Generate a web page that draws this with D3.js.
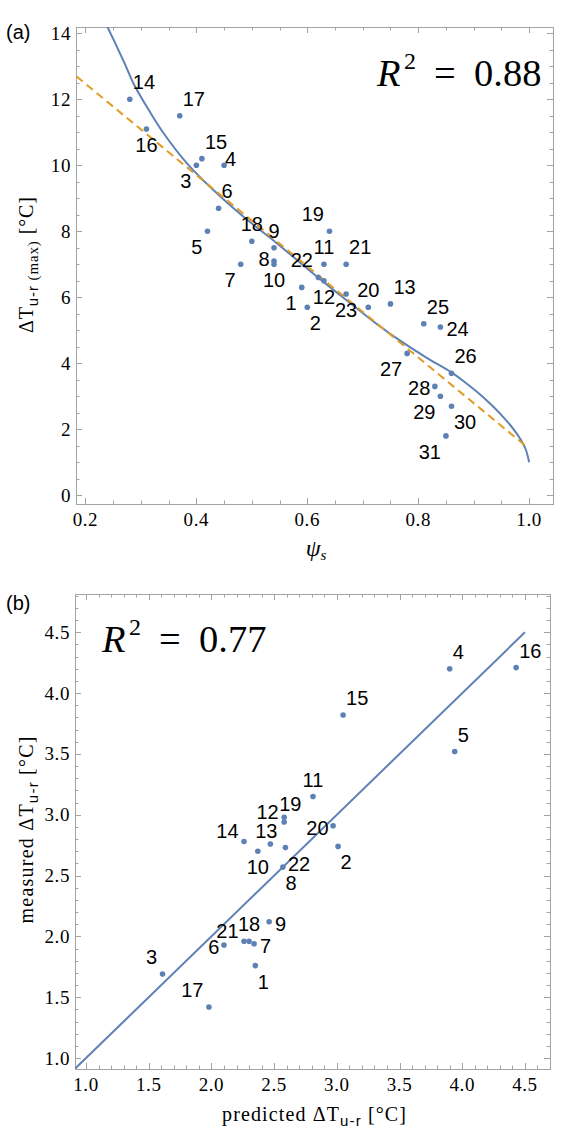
<!DOCTYPE html>
<html>
<head>
<meta charset="utf-8">
<script src="https://cdn.jsdelivr.net/npm/d3@7"></script>
<style>
  body { margin: 0; background: #fff; }
  svg { display: block; background: #fff; }
</style>
</head>
<body>
<svg id="chart" width="572" height="1137"></svg>
<script>
/**
 * Panel (a): maximum urban-rural difference against psi_s, one point per site.
 */
const siteA = [1, 2, 3, 4, 5, 6, 7, 8, 9, 10, 11, 12, 13, 14, 15, 16,
    17, 18, 19, 20, 21, 22, 23, 24, 25, 26, 27, 28, 29, 30, 31];
const psiA = [0.59, 0.60, 0.40, 0.45, 0.42, 0.44, 0.48, 0.54, 0.54, 0.54, 0.63, 0.63, 0.75, 0.28, 0.41, 0.31,
    0.37, 0.50, 0.64, 0.71, 0.67, 0.62, 0.67, 0.84, 0.81, 0.86, 0.78, 0.83, 0.84, 0.86, 0.85];
const dTmaxA = [6.3, 5.7, 10.0, 10.0, 8.0, 8.7, 7.0, 7.1, 7.5, 7.0, 7.0, 6.5, 5.8, 12.0, 10.2, 11.1,
    11.5, 7.7, 8.0, 5.7, 7.0, 6.6, 6.1, 5.1, 5.2, 3.7, 4.3, 3.3, 3.0, 2.7, 1.8];

// solid fit curve
const curvePsiA = [0.232, 0.238, 0.269, 0.289, 0.314, 0.341, 0.383, 0.437, 0.485, 0.545, 0.599,
    0.646, 0.694, 0.730, 0.766, 0.814, 0.862, 0.886, 0.911, 0.935, 0.955, 0.972, 0.985, 0.994, 1.0];
const curveDTA = [14.45, 14.25, 13.15, 12.40, 11.68, 10.97, 10.06, 9.15, 8.44, 7.64, 6.88,
    6.24, 5.60, 5.13, 4.70, 4.18, 3.70, 3.40, 3.06, 2.69, 2.34, 2.00, 1.68, 1.38, 1.0];

// dashed linear fit, end points
const linePsiA = [0.184, 0.995];
const lineDTA = [12.69, 1.48];

/**
 * Panel (b): measured against predicted difference.
 */
const siteB = [1, 2, 3, 4, 5, 6, 7, 8, 9, 10, 11, 12, 13, 14, 15, 16, 17, 18, 19, 20, 21, 22];
const predictedB = [2.35, 3.01, 1.61, 3.90, 3.94, 2.10, 2.34, 2.57, 2.46, 2.37, 2.81,
    2.58, 2.47, 2.26, 3.05, 4.43, 1.98, 2.30, 2.58, 2.97, 2.26, 2.59];
const measuredB = [1.76, 2.74, 1.69, 4.20, 3.52, 1.93, 1.94, 2.57, 2.12, 2.70, 3.15,
    2.94, 2.76, 2.78, 3.82, 4.21, 1.42, 1.96, 2.98, 2.91, 1.96, 2.73];
const diagonalB = [0.91, 4.5];

/**
 * Tick labels.
 */
const xTicksA = [0.2, 0.4, 0.6, 0.8, 1.0];
const yTicksA = [0, 2, 4, 6, 8, 10, 12, 14];
const xTicksB = [1.0, 1.5, 2.0, 2.5, 3.0, 3.5, 4.0, 4.5];
const yTicksB = [1.0, 1.5, 2.0, 2.5, 3.0, 3.5, 4.0, 4.5];

/**
 * Where each site number sits around its point (compass code).
 */
const spotA = ['sw', 'se', 'sw', 'en', 'sw', 'ne', 'sw', 'wn', 'n', 's', 'n', 's', 'ne', 'ne', 'ne', 's',
    'ne', 'n', 'nw', 'n', 'ne', 'nw', 's', 'e', 'ne', 'ne', 'sw', 'w', 'sw', 'se', 'sw'];
const spotB = ['se', 'se', 'nw', 'ne', 'ne', 'w', 'e', 'se', 'e', 's', 'n', 'wnw', 'nlow', 'wnw', 'ne', 'ne',
    'nw', 'n', 'nr', 'w', 'wnw', 'se'];

/**
 * Visual configs.
 */
const blue = '#5e81b5', orange = '#e19c24', frameColor = '#a3a3a3';
const serif = '"Liberation Serif", "Times New Roman", serif',
    sans = '"Liberation Sans", Arial, Helvetica, sans-serif';
const majorLen = 6, minorLen = 3.5;
const spotOffset = {
    n:    { anchor: 'middle', dx: 0, dy: -10 },
    nlow: { anchor: 'middle', dx: -4, dy: -6 },
    nr:   { anchor: 'start', dx: -5, dy: -6 },
    ne:   { anchor: 'start', dx: 3, dy: -10 },
    nw:   { anchor: 'end', dx: -5.5, dy: -10 },
    wnw:  { anchor: 'end', dx: -5.5, dy: -3.5 },
    e:    { anchor: 'start', dx: 6, dy: 9 },
    en:   { anchor: 'start', dx: 1, dy: 1 },
    w:    { anchor: 'end', dx: -4.5, dy: 9 },
    wn:   { anchor: 'end', dx: -4.5, dy: 5 },
    s:    { anchor: 'middle', dx: 0, dy: 23 },
    se:   { anchor: 'start', dx: 2.5, dy: 23 },
    sw:   { anchor: 'end', dx: -5, dy: 23 }
};

const svg = d3.select('#chart');

/**
 * Frame with inward ticks on all four sides, labels on left and bottom.
 */
function drawFrame(g, x, y, xMajor, yMajor, xMinor, yMinor, fmtX, fmtY) {
    const [x0, x1] = x.range(), [y0, y1] = y.range(); // y0 is bottom

    const ticks = [];
    xMinor.forEach(v => ticks.push({ v, len: minorLen, axis: 'x' }));
    xMajor.forEach(v => ticks.push({ v, len: majorLen, axis: 'x' }));
    yMinor.forEach(v => ticks.push({ v, len: minorLen, axis: 'y' }));
    yMajor.forEach(v => ticks.push({ v, len: majorLen, axis: 'y' }));

    const lines = [];
    ticks.forEach(t => {
        if (t.axis === 'x') {
            const px = Math.round(x(t.v)) + 0.5;
            lines.push([px, y0, px, y0 - t.len], [px, y1, px, y1 + t.len]);
        } else {
            const py = Math.round(y(t.v)) + 0.5;
            lines.push([x0, py, x0 + t.len, py], [x1, py, x1 - t.len, py]);
        }
    });

    g.append('g').selectAll('line')
        .data(lines)
        .join('line')
            .attr('x1', d => d[0]).attr('y1', d => d[1])
            .attr('x2', d => d[2]).attr('y2', d => d[3])
            .attr('stroke', frameColor)
            .attr('stroke-width', 1);

    g.append('rect')
        .attr('x', x0 + 0.5).attr('y', y1 + 0.5)
        .attr('width', x1 - x0).attr('height', y0 - y1)
        .attr('fill', 'none')
        .attr('stroke', frameColor)
        .attr('stroke-width', 1);

    g.append('g').selectAll('text')
        .data(xMajor)
        .join('text')
            .attr('font-family', serif)
            .attr('font-size', 19)
            .attr('letter-spacing', 0.6)
            .attr('x', d => x(d))
            .attr('y', y0 + 22)
            .attr('text-anchor', 'middle')
            .text(fmtX);

    g.append('g').selectAll('text')
        .data(yMajor)
        .join('text')
            .attr('font-family', serif)
            .attr('font-size', 19)
            .attr('letter-spacing', 0.6)
            .attr('x', x0 - 5)
            .attr('y', d => y(d) + 6.5)
            .attr('text-anchor', 'end')
            .text(fmtY);
}

/**
 * Points with their site numbers.
 */
function drawPoints(g, x, y, ids, xs, ys, spots) {
    const pts = ids.map((id, i) => ({ id, x: xs[i], y: ys[i], spot: spotOffset[spots[i]] }));

    g.append('g').selectAll('circle')
        .data(pts)
        .join('circle')
            .attr('cx', d => x(d.x))
            .attr('cy', d => y(d.y))
            .attr('r', 2.8)
            .attr('fill', blue);

    g.append('g').selectAll('text')
        .data(pts)
        .join('text')
            .attr('font-family', sans)
            .attr('font-size', 20)
            .attr('x', d => x(d.x) + d.spot.dx)
            .attr('y', d => y(d.y) + d.spot.dy)
            .attr('text-anchor', d => d.spot.anchor)
            .text(d => d.id);
}

function clipFor(id, x, y) {
    svg.append('clipPath').attr('id', id)
        .append('rect')
            .attr('x', x.range()[0]).attr('y', y.range()[1])
            .attr('width', x.range()[1] - x.range()[0])
            .attr('height', y.range()[0] - y.range()[1]);
    return `url(#${id})`;
}

const lineGen = (x, y) => d3.line().x(d => x(d[0])).y(d => y(d[1]));

/**
 * Panel (a).
 */
const xA = d3.scaleLinear().domain([0.183, 1.043]).range([76, 553]);
const yA = d3.scaleLinear().domain([-0.264, 14.19]).range([504, 27]);
const gA = svg.append('g');

drawFrame(gA, xA, yA, xTicksA, yTicksA,
    d3.range(0.2, 1.0001, 0.05), d3.range(0, 14.001, 0.5),
    d3.format('.1f'), d3.format('d'));

gA.append('path')
    .datum(curvePsiA.map((v, i) => [v, curveDTA[i]]))
    .attr('clip-path', clipFor('clipA', xA, yA))
    .attr('d', lineGen(xA, yA).curve(d3.curveCatmullRom.alpha(0.5)))
    .attr('fill', 'none')
    .attr('stroke', blue)
    .attr('stroke-width', 2);

gA.append('path')
    .datum(linePsiA.map((v, i) => [v, lineDTA[i]]))
    .attr('d', lineGen(xA, yA))
    .attr('fill', 'none')
    .attr('stroke', orange)
    .attr('stroke-width', 2)
    .attr('stroke-dasharray', '8,5');

drawPoints(gA, xA, yA, siteA, psiA, dTmaxA, spotA);

/**
 * Panel (b).
 */
const xB = d3.scaleLinear().domain([0.912, 4.70]).range([75, 550]);
const yB = d3.scaleLinear().domain([0.91, 4.815]).range([1069, 594]);
const gB = svg.append('g');

drawFrame(gB, xB, yB, xTicksB, yTicksB,
    d3.range(1.0, 4.6501, 0.1), d3.range(1.0, 4.8001, 0.1),
    d3.format('.1f'), d3.format('.1f'));

gB.append('path')
    .datum(diagonalB.map(v => [v, v]))
    .attr('clip-path', clipFor('clipB', xB, yB))
    .attr('d', lineGen(xB, yB))
    .attr('fill', 'none')
    .attr('stroke', blue)
    .attr('stroke-width', 2);

drawPoints(gB, xB, yB, siteB, predictedB, measuredB, spotB);

/**
 * Texts: panel tags, R^2, axis titles.
 */
[['(a)', 39], ['(b)', 610]].forEach(([tag, ty]) => {
    svg.append('text')
        .attr('font-family', sans).attr('font-size', 20)
        .attr('x', 6).attr('y', ty)
        .text(tag);
});

function rSquared(x0, y0, value) {
    const g = svg.append('g')
        .attr('font-family', serif)
        .attr('font-size', 38.5);
    g.append('text').attr('x', x0).attr('y', y0).attr('font-style', 'italic').text('R');
    g.append('text').attr('x', x0 + 27).attr('y', y0 - 17).attr('font-size', 24).text('2');
    g.append('text').attr('x', x0 + 57).attr('y', y0).text('=');
    g.append('text').attr('x', x0 + 97).attr('y', y0).text(value);
}
rSquared(377, 86, '0.88');
rSquared(102, 652, '0.77');

// x title of (a)
const psiLabel = svg.append('text')
    .attr('font-family', serif)
    .attr('x', 316).attr('y', 556)
    .attr('text-anchor', 'middle')
    .attr('font-style', 'italic');
psiLabel.append('tspan').attr('font-size', 24).text('ψ');
psiLabel.append('tspan').attr('font-size', 15).attr('dy', 4).text('s');

function deltaLabel(sel, prefix, sub, extra) {
    sel.attr('font-family', serif).attr('font-size', 20);
    sel.append('tspan').text(prefix + 'ΔT');
    sel.append('tspan').attr('font-family', sans).attr('font-size', 15).attr('dy', 5).text(sub);
    if (extra) sel.append('tspan').attr('font-size', 15).text(extra);
    sel.append('tspan').attr('dy', -5).text('  [°C]');
}

// y title of (a)
deltaLabel(svg.append('text')
    .attr('transform', 'translate(33,265) rotate(-90)')
    .attr('text-anchor', 'middle')
    .attr('textLength', 136).attr('lengthAdjust', 'spacing'), '', 'u-r', ' (max)');

// y title of (b)
deltaLabel(svg.append('text')
    .attr('transform', 'translate(33,830) rotate(-90)')
    .attr('text-anchor', 'middle')
    .attr('textLength', 187).attr('lengthAdjust', 'spacing'), 'measured ', 'u-r', null);

// x title of (b)
deltaLabel(svg.append('text')
    .attr('x', 314).attr('y', 1121)
    .attr('text-anchor', 'middle')
    .attr('textLength', 184).attr('lengthAdjust', 'spacing'), 'predicted ', 'u-r', null);
</script>
</body>
</html>
